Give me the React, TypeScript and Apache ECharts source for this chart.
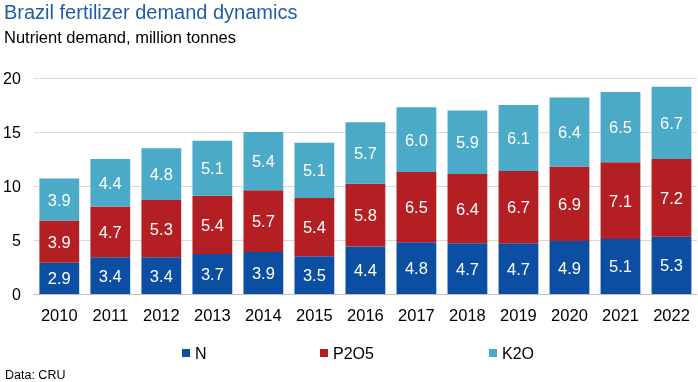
import React, { useEffect, useRef } from "react";
import * as echarts from "echarts";

const years = ["2010","2011","2012","2013","2014","2015","2016","2017","2018","2019","2020","2021","2022"];
const nValues = [2.9,3.4,3.4,3.7,3.9,3.5,4.4,4.8,4.7,4.7,4.9,5.1,5.3];
const pValues = [3.9,4.7,5.3,5.4,5.7,5.4,5.8,6.5,6.4,6.7,6.9,7.1,7.2];
const kValues = [3.9,4.4,4.8,5.1,5.4,5.1,5.7,6.0,5.9,6.1,6.4,6.5,6.7];
const seriesNames = ["N", "P2O5", "K2O"];
const colors = ["#0b4ea2", "#b41f24", "#4aaac7"];

const FONT = "'Liberation Sans', Arial, sans-serif";

export default function App() {
  const ref = useRef<HTMLDivElement>(null);
  useEffect(() => {
    const chart = echarts.init(ref.current!, undefined, { renderer: "svg" });
    const data = [nValues, pValues, kValues];
    const legendLefts = [177, 315, 484];
    chart.setOption({
      animation: false,
      textStyle: { fontFamily: FONT },
      title: [
        { text: "Brazil fertilizer demand dynamics", left: 4, top: 2, padding: 0, textStyle: { color: "#1e5ea8", fontSize: 20, fontWeight: "normal", fontFamily: FONT } },
        { text: "Nutrient demand, million tonnes", left: 4, top: 28, padding: 0, textStyle: { color: "#000", fontSize: 16.5, fontWeight: "normal", fontFamily: FONT } },
        { text: "Data: CRU", left: 5, top: 368, padding: 0, textStyle: { color: "#000", fontSize: 12.5, fontWeight: "normal", fontFamily: FONT } },
      ],
      legend: seriesNames.map((n, i) => ({
        data: [n],
        left: legendLefts[i],
        top: 340,
        icon: "rect",
        itemWidth: 8,
        itemHeight: 8,
        itemGap: 4,
        textStyle: { fontSize: 16, color: "#000", fontFamily: FONT },
      })),
      grid: { left: 33, right: 1, top: 78, bottom: 88, containLabel: false },
      xAxis: {
        type: "category",
        data: years,
        axisTick: { show: false },
        axisLine: { lineStyle: { color: "#bfbfbf" } },
        axisLabel: { color: "#000", fontSize: 16.5, margin: 12, fontFamily: FONT },
      },
      yAxis: {
        type: "value",
        min: 0,
        max: 20,
        interval: 5,
        axisLabel: { color: "#000", fontSize: 16, margin: 13, fontFamily: FONT },
        splitLine: { lineStyle: { color: "#d9d9d9" } },
        axisLine: { show: false },
        axisTick: { show: false },
      },
      series: seriesNames.map((n, i) => ({
        name: n,
        type: "bar",
        stack: "total",
        data: data[i],
        barCategoryGap: "22%",
        itemStyle: { color: colors[i] },
        label: {
          show: true,
          position: "inside",
          color: "#fff",
          fontSize: 16.5,
          fontFamily: FONT,
          formatter: (p: any) => Number(p.value).toFixed(1),
        },
      })),
    });
    return () => chart.dispose();
  }, []);
  return <div ref={ref} style={{ position: "fixed", left: 0, top: 0, width: 698, height: 382 }} />;
}
